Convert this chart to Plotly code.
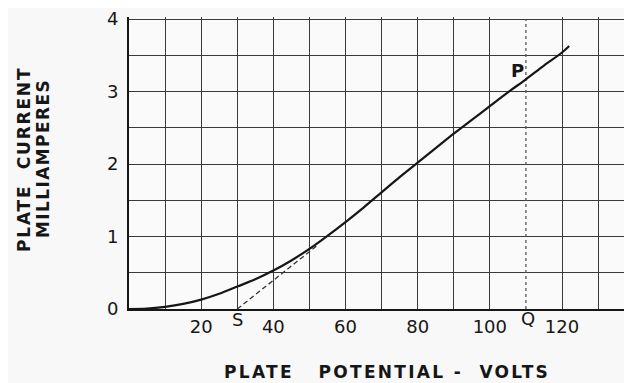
import plotly.graph_objects as go

# plate characteristic
volts = [0, 5, 10, 15, 20, 25, 30, 35, 40, 45, 50, 55, 60, 65, 70, 75, 80, 85, 90, 95, 100, 105,
         110, 115, 120, 122]
milliamps = [0, 0.005, 0.03, 0.07, 0.13, 0.21, 0.31, 0.41, 0.53, 0.67, 0.83, 1.01, 1.2, 1.4,
             1.61, 1.82, 2.02, 2.22, 2.42, 2.61, 2.8, 2.99, 3.17, 3.36, 3.54, 3.63]

# tangent extended down to S
tangent_volts = [30, 52]
tangent_milliamps = [0, 0.87]

# dashed ordinate through P and Q
pq_volts = [110, 110]
pq_milliamps = [0, 4]

x_grid = [0, 10, 20, 30, 40, 50, 60, 70, 80, 90, 100, 120, 130]
x_labels = ['', '', '20', '', '40', '', '60', '', '80', '', '100', '120', '']
y_grid = [0, 0.5, 1, 1.5, 2, 2.5, 3, 3.5, 4]
y_labels = ['0', '', '1', '', '2', '', '3', '', '4']

ink = '#161616'
grid_color = '#3a3a3a'
font_name = 'DejaVu Sans'

fig = go.Figure()
fig.add_trace(go.Scatter(x=pq_volts, y=pq_milliamps, mode='lines',
                         line={'color': '#555555', 'width': 1.3, 'dash': '3px,3px'},
                         showlegend=False, hoverinfo='skip'))
fig.add_trace(go.Scatter(x=tangent_volts, y=tangent_milliamps, mode='lines',
                         line={'color': '#333333', 'width': 1.3, 'dash': '5px,3px'},
                         showlegend=False, hoverinfo='skip'))
fig.add_trace(go.Scatter(x=volts, y=milliamps, mode='lines', line_shape='spline',
                         line={'color': ink, 'width': 2.2}, showlegend=False))

tick_font = {'size': 18, 'color': ink, 'family': font_name}
fig.update_xaxes(range=[0, 139.4], tickmode='array', tickvals=x_grid, ticktext=x_labels,
                 showgrid=True, gridcolor=grid_color, gridwidth=1.3, zeroline=False,
                 showline=True, linecolor=ink, linewidth=2, ticks='', ticklen=0,
                 ticklabelstandoff=0, tickfont=tick_font)
# a little headroom above 4 so the top grid line is not trimmed at the plot edge
fig.update_yaxes(range=[0, 4.03], tickmode='array', tickvals=y_grid, ticktext=y_labels,
                 showgrid=True, gridcolor=grid_color, gridwidth=1.3, zeroline=False,
                 showline=True, linecolor=ink, linewidth=2, ticks='', ticklen=0,
                 ticklabelstandoff=5, ticklabeloverflow='allow', tickfont=tick_font)

fig.add_annotation(x=30, y=0, text='S', showarrow=False, yanchor='top', yshift=2, font=tick_font)
fig.add_annotation(x=110.5, y=0, text='Q', showarrow=False, yanchor='top', yshift=3, font=tick_font)
fig.add_annotation(x=107.8, y=3.29, text='<b>P</b>', showarrow=False, font=tick_font)

title_font = {'size': 17, 'color': ink, 'family': font_name, 'weight': 'bold'}
fig.add_annotation(xref='paper', yref='paper', x=0.5, y=0, xshift=6.5, yshift=-63,
                   xanchor='center', yanchor='middle',
                   text='<span style="letter-spacing:2.3px">PLATE&nbsp;&nbsp;&nbsp;POTENTIAL - &nbsp;VOLTS</span>',
                   showarrow=False, font=title_font)
fig.add_annotation(xref='paper', yref='paper', x=0, y=0.5, xshift=-105, yshift=3,
                   xanchor='center', yanchor='middle', textangle=-90,
                   text='<span style="letter-spacing:1.8px">PLATE&nbsp;&nbsp;CURRENT</span>',
                   showarrow=False, font=title_font)
fig.add_annotation(xref='paper', yref='paper', x=0, y=0.5, xshift=-86, yshift=4,
                   xanchor='center', yanchor='middle', textangle=-90,
                   text='<span style="letter-spacing:1.4px">MILLIAMPERES</span>',
                   showarrow=False, font=title_font)

# the page body adds an 8px offset, so the figure is trimmed to keep the plot area in place
fig.update_layout(width=624, height=375, margin={'l': 121, 'r': 0, 't': 6, 'b': 74},
                  paper_bgcolor='#f8f8f8', plot_bgcolor='#fafafa',
                  font={'family': font_name, 'color': ink})

fig.write_html('out.html')
